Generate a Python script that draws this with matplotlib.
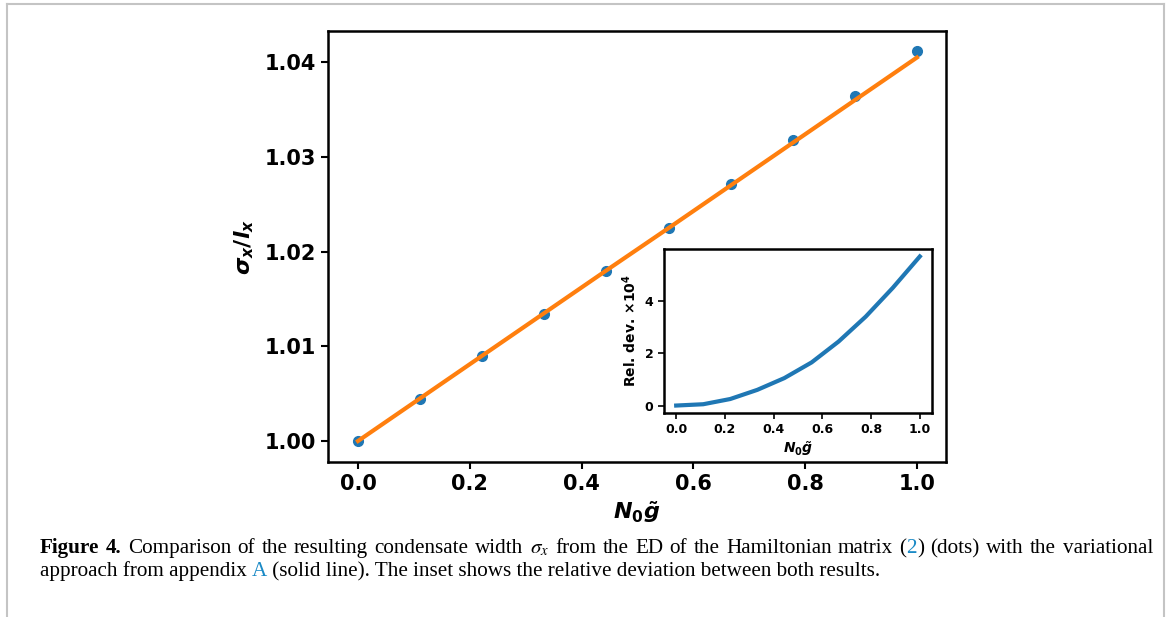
import matplotlib
matplotlib.use("Agg")
import matplotlib.pyplot as plt
from matplotlib.lines import Line2D

# data
n0g = [0.0, 0.111, 0.222, 0.333, 0.444, 0.556, 0.667, 0.778, 0.889, 1.0]
width_ed = [1.0000, 1.00443, 1.00897, 1.01340, 1.01790, 1.02248, 1.02710, 1.03177, 1.03640, 1.04116]
width_var = [1.0000, 1.00450, 1.00900, 1.01350, 1.01800, 1.02250, 1.02700, 1.03150, 1.03600, 1.04050]
rel_dev = [0.0, 0.05, 0.25, 0.60, 1.05, 1.65, 2.45, 3.40, 4.50, 5.70]  # x 1e-4

main_xticks = [0.0, 0.2, 0.4, 0.6, 0.8, 1.0]
main_yticks = [1.00, 1.01, 1.02, 1.03, 1.04]
inset_yticks = [0, 2, 4]

LINK = "#1a8ac6"
# caption, line 1 is justified word by word; each word is a list of pieces
caption_line1 = [
    [("Figure", "black", "bold")], [("4.", "black", "bold")],
    [("Comparison", "black", "normal")], [("of", "black", "normal")],
    [("the", "black", "normal")], [("resulting", "black", "normal")],
    [("condensate", "black", "normal")], [("width", "black", "normal")],
    [(r"$\sigma_x$", "black", "normal")], [("from", "black", "normal")],
    [("the", "black", "normal")], [("ED", "black", "normal")],
    [("of", "black", "normal")], [("the", "black", "normal")],
    [("Hamiltonian", "black", "normal")], [("matrix", "black", "normal")],
    [("(", "black", "normal"), ("2", LINK, "normal"), (")", "black", "normal")],
    [("(dots)", "black", "normal")], [("with", "black", "normal")],
    [("the", "black", "normal")], [("variational", "black", "normal")],
]
caption_line2 = [
    ("approach from appendix ", "black", "normal"),
    ("A", LINK, "normal"),
    (" (solid line). The inset shows the relative deviation between both results.", "black", "normal"),
]

plt.rcParams["mathtext.fontset"] = "custom"
plt.rcParams["mathtext.it"] = "DejaVu Sans:italic:bold"
plt.rcParams["mathtext.rm"] = "DejaVu Sans:bold"
plt.rcParams["mathtext.bf"] = "DejaVu Sans:italic:bold"

W, H = 1167, 617
fig = plt.figure(figsize=(W / 100, H / 100), dpi=100)


def px_box(x0, y0, x1, y1):
    return [x0 / W, 1 - y1 / H, (x1 - x0) / W, (y1 - y0) / H]


# page frame
for xs, ys in [((7, 7), (4, 617)), ((7, 1164), (4, 4)), ((1164, 1164), (4, 617))]:
    fig.add_artist(Line2D([x / W for x in xs], [1 - y / H for y in ys],
                          color="#c4c4c4", linewidth=1.5))

ax = fig.add_axes(px_box(328, 31, 946, 462))
ax.plot(n0g, width_ed, "o", color="tab:blue", markersize=7)
ax.plot(n0g, width_var, "-", color="tab:orange", linewidth=3)
ax.set_xlim(-0.0537, 1.052)
ax.set_ylim(0.99778, 1.0433)
ax.set_xticks(main_xticks)
ax.set_yticks(main_yticks)
ax.set_xticklabels([f"{v:.1f}" for v in main_xticks], fontweight="bold")
ax.set_yticklabels([f"{v:.2f}" for v in main_yticks], fontweight="bold")
ax.tick_params(labelsize=15, width=1.5, length=5)
for s in ax.spines.values():
    s.set_linewidth(1.8)
ax.set_xlabel(r"$N_0\tilde{g}$", fontsize=16, labelpad=4)
ax.set_ylabel(r"$\sigma_x/l_x$", fontsize=16, labelpad=6)

ins = fig.add_axes(px_box(664, 249, 932, 413))
ins.plot(n0g, rel_dev, color="tab:blue", linewidth=3)
ins.set_yticks(inset_yticks)
ins.set_xticks(main_xticks)
ins.set_xticklabels([f"{v:.1f}" for v in main_xticks], fontweight="bold")
ins.set_yticklabels([str(v) for v in inset_yticks], fontweight="bold")
ins.tick_params(labelsize=9, width=1.2, length=4)
for s in ins.spines.values():
    s.set_linewidth(1.8)
ins.set_xlabel(r"$N_0\tilde{g}$", fontsize=10, labelpad=2)
ins.set_ylabel(r"Rel. dev. $\times 10^4$", fontsize=10, labelpad=4,
               fontweight="bold")

# caption
cap_font = "Liberation Serif"
cap_size = 15.2
x_left, x_right = 40, 1153
y1 = 1 - 553 / H
y2 = 1 - 576 / H
renderer = fig.canvas.get_renderer()


def cap_text(x_px, y, text, color, weight):
    return fig.text(x_px / W, y, text, family=cap_font, fontsize=cap_size,
                    color=color, fontweight=weight, va="baseline", ha="left",
                    math_fontfamily="stix")


# measure words of line 1, then spread them over the full width
words = []
for word in caption_line1:
    pieces = [cap_text(0, y1, t, c, w) for t, c, w in word]
    widths = [p.get_window_extent(renderer).width for p in pieces]
    words.append((pieces, widths))
total = sum(sum(ws) for _, ws in words)
gap = (x_right - x_left - total) / (len(words) - 1)
x = x_left
for pieces, widths in words:
    for p, w in zip(pieces, widths):
        p.set_x(x / W)
        x += w
    x += gap

x = x_left
for t, c, w in caption_line2:
    p = cap_text(x, y2, t, c, w)
    x += p.get_window_extent(renderer).width

fig.savefig("out.png", dpi=100)
